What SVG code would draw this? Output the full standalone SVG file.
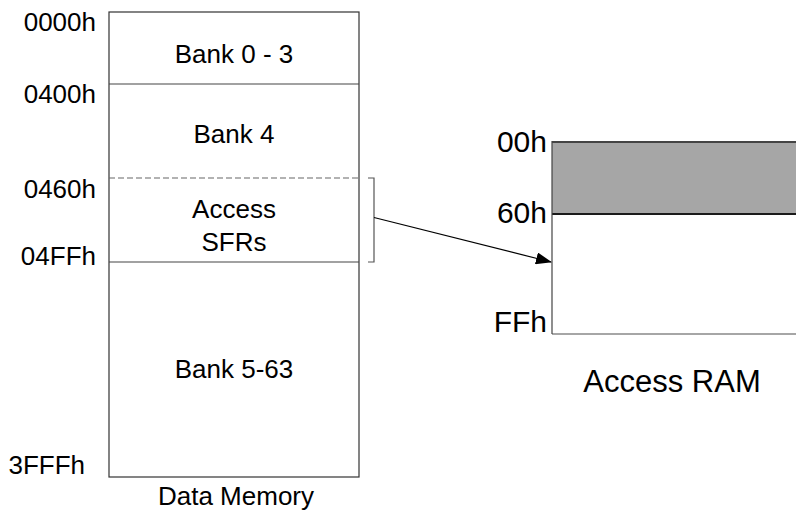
<svg xmlns="http://www.w3.org/2000/svg" width="796" height="512" viewBox="0 0 796 512">
<defs>
<style>
text{font-family:"Liberation Sans",Arial,sans-serif;fill:#000}
.addr{font-size:26px;text-anchor:end}
.lbl{font-size:26px;text-anchor:middle}
.big{font-size:30px;text-anchor:end}
.box{fill:#fff;stroke:#333;stroke-width:1.2}
.sep{stroke:#444;stroke-width:1.2;fill:none}
</style>
<marker id="arr" markerWidth="16" markerHeight="12" refX="15" refY="6" orient="auto" markerUnits="userSpaceOnUse">
<path d="M0,0 L16,6 L0,12 Z" fill="#000"/>
</marker>
</defs>
<rect width="796" height="512" fill="#fff"/>
<g id="data-memory">
<rect class="box" x="109" y="12" width="250" height="465"/>
<line class="sep" x1="109" y1="84" x2="359" y2="84"/>
<line x1="109" y1="178" x2="359" y2="178" stroke="#666" stroke-width="1.2" stroke-dasharray="6,3"/>
<line class="sep" x1="109" y1="262" x2="359" y2="262"/>
<text class="lbl" x="234" y="63">Bank 0 - 3</text>
<text class="lbl" x="234" y="143">Bank 4</text>
<text class="lbl" x="234" y="218">Access</text>
<text class="lbl" x="234" y="251">SFRs</text>
<text class="lbl" x="234" y="378">Bank 5-63</text>
<text class="lbl" x="236" y="505">Data Memory</text>
</g>
<g id="addresses-left">
<text class="addr" x="96" y="31">0000h</text>
<text class="addr" x="96" y="103">0400h</text>
<text class="addr" x="96" y="198">0460h</text>
<text class="addr" x="96" y="265">04FFh</text>
<text class="addr" x="85" y="474">3FFFh</text>
</g>
<g id="access-ram">
<rect x="552" y="142" width="250" height="72" fill="#a6a6a6"/>
<line x1="552" y1="142" x2="796" y2="142" stroke="#444" stroke-width="2"/>
<line x1="552" y1="214" x2="796" y2="214" stroke="#1a1a1a" stroke-width="2"/>
<line x1="552" y1="334" x2="796" y2="334" stroke="#888" stroke-width="1.5"/>
<line x1="552" y1="141" x2="552" y2="334" stroke="#444" stroke-width="1.2"/>
<text class="big" x="547" y="152">00h</text>
<text class="big" x="547" y="223">60h</text>
<text class="big" x="547" y="332">FFh</text>
<text x="672" y="392" font-size="31" text-anchor="middle">Access RAM</text>
</g>
<g id="connectors">
<path d="M368,178 H374 V262 H368" fill="none" stroke="#555" stroke-width="1.2"/>
<line x1="374" y1="217.5" x2="551" y2="262" stroke="#000" stroke-width="1.2" marker-end="url(#arr)"/>
</g>
</svg>
